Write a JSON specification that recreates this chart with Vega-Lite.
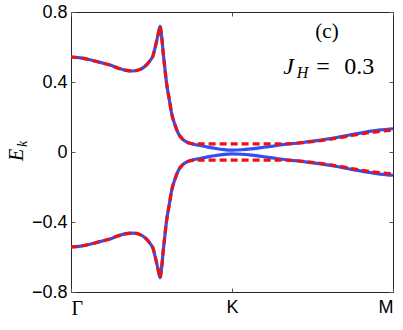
{
  "$schema": "https://vega.github.io/schema/vega-lite/v6.json",
  "width": 322,
  "height": 280,
  "autosize": {"type": "none"},
  "padding": {"left": 71, "top": 12, "right": 10, "bottom": 38},
  "background": "white",
  "config": {
    "view": {"stroke": "#262626", "strokeWidth": 1},
    "axis": {"grid": false, "domain": false, "labelFont": "Liberation Sans", "labelFontSize": 18, "labelColor": "#000", "tickColor": "#555", "tickWidth": 1, "title": null}
  },
  "datasets": {
    "bands": [
      {"curve":"blue","band":"up","k":0,"E":0.543},{"curve":"blue","band":"up","k":0.06,"E":0.538},{"curve":"blue","band":"up","k":0.118,"E":0.527},{"curve":"blue","band":"up","k":0.18,"E":0.512},{"curve":"blue","band":"up","k":0.242,"E":0.497},{"curve":"blue","band":"up","k":0.29,"E":0.48},{"curve":"blue","band":"up","k":0.335,"E":0.468},{"curve":"blue","band":"up","k":0.385,"E":0.463},{"curve":"blue","band":"up","k":0.429,"E":0.472},{"curve":"blue","band":"up","k":0.46,"E":0.49},{"curve":"blue","band":"up","k":0.491,"E":0.522},{"curve":"blue","band":"up","k":0.51,"E":0.552},{"curve":"blue","band":"up","k":0.522,"E":0.595},{"curve":"blue","band":"up","k":0.532,"E":0.635},{"curve":"blue","band":"up","k":0.542,"E":0.675},{"curve":"blue","band":"up","k":0.553,"E":0.718},{"curve":"blue","band":"up","k":0.563,"E":0.66},{"curve":"blue","band":"up","k":0.573,"E":0.564},{"curve":"blue","band":"up","k":0.584,"E":0.469},{"curve":"blue","band":"up","k":0.594,"E":0.39},{"curve":"blue","band":"up","k":0.611,"E":0.297},{"curve":"blue","band":"up","k":0.625,"E":0.221},{"curve":"blue","band":"up","k":0.646,"E":0.154},{"curve":"blue","band":"up","k":0.666,"E":0.107},{"curve":"blue","band":"up","k":0.698,"E":0.069},{"curve":"blue","band":"up","k":0.739,"E":0.05},{"curve":"blue","band":"up","k":0.801,"E":0.037},{"curve":"blue","band":"up","k":0.85,"E":0.028},{"curve":"blue","band":"up","k":0.9,"E":0.02},{"curve":"blue","band":"up","k":0.95,"E":0.014},{"curve":"blue","band":"up","k":1.0,"E":0.011},{"curve":"blue","band":"up","k":1.06,"E":0.013},{"curve":"blue","band":"up","k":1.12,"E":0.018},{"curve":"blue","band":"up","k":1.18,"E":0.025},{"curve":"blue","band":"up","k":1.24,"E":0.032},{"curve":"blue","band":"up","k":1.3,"E":0.04},{"curve":"blue","band":"up","k":1.4,"E":0.05},{"curve":"blue","band":"up","k":1.48,"E":0.059},{"curve":"blue","band":"up","k":1.55,"E":0.068},{"curve":"blue","band":"up","k":1.65,"E":0.083},{"curve":"blue","band":"up","k":1.73,"E":0.097},{"curve":"blue","band":"up","k":1.82,"E":0.112},{"curve":"blue","band":"up","k":1.92,"E":0.126},{"curve":"blue","band":"up","k":2.0,"E":0.133},

      {"curve":"blue","band":"lo","k":0,"E":-0.543},{"curve":"blue","band":"lo","k":0.06,"E":-0.538},{"curve":"blue","band":"lo","k":0.118,"E":-0.527},{"curve":"blue","band":"lo","k":0.18,"E":-0.512},{"curve":"blue","band":"lo","k":0.242,"E":-0.497},{"curve":"blue","band":"lo","k":0.29,"E":-0.48},{"curve":"blue","band":"lo","k":0.335,"E":-0.468},{"curve":"blue","band":"lo","k":0.385,"E":-0.463},{"curve":"blue","band":"lo","k":0.429,"E":-0.472},{"curve":"blue","band":"lo","k":0.46,"E":-0.49},{"curve":"blue","band":"lo","k":0.491,"E":-0.522},{"curve":"blue","band":"lo","k":0.51,"E":-0.552},{"curve":"blue","band":"lo","k":0.522,"E":-0.595},{"curve":"blue","band":"lo","k":0.532,"E":-0.635},{"curve":"blue","band":"lo","k":0.542,"E":-0.675},{"curve":"blue","band":"lo","k":0.553,"E":-0.718},{"curve":"blue","band":"lo","k":0.563,"E":-0.66},{"curve":"blue","band":"lo","k":0.573,"E":-0.564},{"curve":"blue","band":"lo","k":0.584,"E":-0.469},{"curve":"blue","band":"lo","k":0.594,"E":-0.39},{"curve":"blue","band":"lo","k":0.611,"E":-0.297},{"curve":"blue","band":"lo","k":0.625,"E":-0.221},{"curve":"blue","band":"lo","k":0.646,"E":-0.154},{"curve":"blue","band":"lo","k":0.666,"E":-0.107},{"curve":"blue","band":"lo","k":0.698,"E":-0.069},{"curve":"blue","band":"lo","k":0.739,"E":-0.05},{"curve":"blue","band":"lo","k":0.801,"E":-0.037},{"curve":"blue","band":"lo","k":0.85,"E":-0.028},{"curve":"blue","band":"lo","k":0.9,"E":-0.02},{"curve":"blue","band":"lo","k":0.95,"E":-0.014},{"curve":"blue","band":"lo","k":1.0,"E":-0.011},{"curve":"blue","band":"lo","k":1.06,"E":-0.013},{"curve":"blue","band":"lo","k":1.12,"E":-0.018},{"curve":"blue","band":"lo","k":1.18,"E":-0.025},{"curve":"blue","band":"lo","k":1.24,"E":-0.032},{"curve":"blue","band":"lo","k":1.3,"E":-0.04},{"curve":"blue","band":"lo","k":1.4,"E":-0.05},{"curve":"blue","band":"lo","k":1.48,"E":-0.059},{"curve":"blue","band":"lo","k":1.55,"E":-0.068},{"curve":"blue","band":"lo","k":1.65,"E":-0.083},{"curve":"blue","band":"lo","k":1.73,"E":-0.097},{"curve":"blue","band":"lo","k":1.82,"E":-0.112},{"curve":"blue","band":"lo","k":1.92,"E":-0.126},{"curve":"blue","band":"lo","k":2.0,"E":-0.133},

      {"curve":"red","band":"up","k":0,"E":0.543},{"curve":"red","band":"up","k":0.06,"E":0.538},{"curve":"red","band":"up","k":0.118,"E":0.527},{"curve":"red","band":"up","k":0.18,"E":0.512},{"curve":"red","band":"up","k":0.242,"E":0.497},{"curve":"red","band":"up","k":0.29,"E":0.48},{"curve":"red","band":"up","k":0.335,"E":0.468},{"curve":"red","band":"up","k":0.385,"E":0.463},{"curve":"red","band":"up","k":0.429,"E":0.472},{"curve":"red","band":"up","k":0.46,"E":0.49},{"curve":"red","band":"up","k":0.491,"E":0.522},{"curve":"red","band":"up","k":0.51,"E":0.552},{"curve":"red","band":"up","k":0.522,"E":0.595},{"curve":"red","band":"up","k":0.532,"E":0.635},{"curve":"red","band":"up","k":0.542,"E":0.675},{"curve":"red","band":"up","k":0.553,"E":0.718},{"curve":"red","band":"up","k":0.563,"E":0.66},{"curve":"red","band":"up","k":0.573,"E":0.564},{"curve":"red","band":"up","k":0.584,"E":0.469},{"curve":"red","band":"up","k":0.594,"E":0.39},{"curve":"red","band":"up","k":0.611,"E":0.297},{"curve":"red","band":"up","k":0.625,"E":0.221},{"curve":"red","band":"up","k":0.646,"E":0.154},{"curve":"red","band":"up","k":0.666,"E":0.107},{"curve":"red","band":"up","k":0.698,"E":0.069},{"curve":"red","band":"up","k":0.739,"E":0.05},{"curve":"red","band":"up","k":0.78,"E":0.047},{"curve":"red","band":"up","k":0.85,"E":0.046},{"curve":"red","band":"up","k":0.95,"E":0.046},{"curve":"red","band":"up","k":1.05,"E":0.046},{"curve":"red","band":"up","k":1.15,"E":0.046},{"curve":"red","band":"up","k":1.25,"E":0.046},{"curve":"red","band":"up","k":1.33,"E":0.047},{"curve":"red","band":"up","k":1.4,"E":0.05},{"curve":"red","band":"up","k":1.48,"E":0.057},{"curve":"red","band":"up","k":1.55,"E":0.065},{"curve":"red","band":"up","k":1.65,"E":0.079},{"curve":"red","band":"up","k":1.73,"E":0.092},{"curve":"red","band":"up","k":1.82,"E":0.106},{"curve":"red","band":"up","k":1.92,"E":0.118},{"curve":"red","band":"up","k":2.0,"E":0.124},

      {"curve":"red","band":"lo","k":0,"E":-0.543},{"curve":"red","band":"lo","k":0.06,"E":-0.538},{"curve":"red","band":"lo","k":0.118,"E":-0.527},{"curve":"red","band":"lo","k":0.18,"E":-0.512},{"curve":"red","band":"lo","k":0.242,"E":-0.497},{"curve":"red","band":"lo","k":0.29,"E":-0.48},{"curve":"red","band":"lo","k":0.335,"E":-0.468},{"curve":"red","band":"lo","k":0.385,"E":-0.463},{"curve":"red","band":"lo","k":0.429,"E":-0.472},{"curve":"red","band":"lo","k":0.46,"E":-0.49},{"curve":"red","band":"lo","k":0.491,"E":-0.522},{"curve":"red","band":"lo","k":0.51,"E":-0.552},{"curve":"red","band":"lo","k":0.522,"E":-0.595},{"curve":"red","band":"lo","k":0.532,"E":-0.635},{"curve":"red","band":"lo","k":0.542,"E":-0.675},{"curve":"red","band":"lo","k":0.553,"E":-0.718},{"curve":"red","band":"lo","k":0.563,"E":-0.66},{"curve":"red","band":"lo","k":0.573,"E":-0.564},{"curve":"red","band":"lo","k":0.584,"E":-0.469},{"curve":"red","band":"lo","k":0.594,"E":-0.39},{"curve":"red","band":"lo","k":0.611,"E":-0.297},{"curve":"red","band":"lo","k":0.625,"E":-0.221},{"curve":"red","band":"lo","k":0.646,"E":-0.154},{"curve":"red","band":"lo","k":0.666,"E":-0.107},{"curve":"red","band":"lo","k":0.698,"E":-0.069},{"curve":"red","band":"lo","k":0.739,"E":-0.05},{"curve":"red","band":"lo","k":0.78,"E":-0.047},{"curve":"red","band":"lo","k":0.85,"E":-0.046},{"curve":"red","band":"lo","k":0.95,"E":-0.046},{"curve":"red","band":"lo","k":1.05,"E":-0.046},{"curve":"red","band":"lo","k":1.15,"E":-0.046},{"curve":"red","band":"lo","k":1.25,"E":-0.046},{"curve":"red","band":"lo","k":1.33,"E":-0.047},{"curve":"red","band":"lo","k":1.4,"E":-0.05},{"curve":"red","band":"lo","k":1.48,"E":-0.057},{"curve":"red","band":"lo","k":1.55,"E":-0.065},{"curve":"red","band":"lo","k":1.65,"E":-0.079},{"curve":"red","band":"lo","k":1.73,"E":-0.092},{"curve":"red","band":"lo","k":1.82,"E":-0.106},{"curve":"red","band":"lo","k":1.92,"E":-0.118},{"curve":"red","band":"lo","k":2.0,"E":-0.124}
    ]
  },
  "resolve": {"axis": {"x": "independent", "y": "independent"}},
  "layer": [
    {
      "data": {"name": "bands"},
      "transform": [{"filter": "datum.curve === 'blue'"}],
      "mark": {"type": "line", "color": "#3050f2", "strokeWidth": 3.2, "interpolate": "monotone", "clip": true},
      "encoding": {
        "x": {"field": "k", "type": "quantitative", "scale": {"domain": [0, 2], "nice": false, "zero": false},
              "axis": {"orient": "bottom", "values": [0, 1, 2], "tickSize": -4, "labelPadding": 10,
                       "labelExpr": "datum.value == 0 ? 'Γ' : (datum.value == 1 ? 'K' : 'M')",
                       "labelFont": {"condition": {"test": "datum.value == 0", "value": "Liberation Serif"}, "value": "Liberation Sans"},
                       "labelFontSize": {"condition": {"test": "datum.value == 0", "value": 20}, "value": 18}}},
        "y": {"field": "E", "type": "quantitative", "scale": {"domain": [-0.8, 0.8], "nice": false, "zero": false},
              "axis": {"orient": "left", "values": [-0.8, -0.4, 0, 0.4, 0.8], "tickSize": -4, "labelPadding": 8,
                       "labelExpr": "datum.value == 0 ? '0' : replace(format(datum.value, '.1f'), '-', '−')"}},
        "detail": {"field": "band"}
      }
    },
    {
      "data": {"name": "bands"},
      "transform": [{"filter": "datum.curve === 'red'"}],
      "mark": {"type": "line", "color": "#ee1111", "strokeWidth": 3.2, "strokeDash": [7, 4], "interpolate": "monotone", "clip": true},
      "encoding": {
        "x": {"field": "k", "type": "quantitative", "axis": {"orient": "top", "values": [0, 1, 2], "tickSize": -4, "labels": false}},
        "y": {"field": "E", "type": "quantitative", "axis": {"orient": "right", "values": [-0.8, -0.4, 0, 0.4, 0.8], "tickSize": -4, "labels": false}},
        "detail": {"field": "band"}
      }
    },
    {
      "data": {"values": [{"k": 1.59, "E": 0.686, "t": "(c)"}]},
      "mark": {"type": "text", "font": "Liberation Serif", "fontSize": 21, "align": "center", "baseline": "middle", "color": "#000"},
      "encoding": {"x": {"field": "k", "type": "quantitative", "axis": null}, "y": {"field": "E", "type": "quantitative", "axis": null}, "text": {"field": "t"}}
    },
    {
      "data": {"values": [{"k": 1.351, "E": 0.446, "t": "J"}]},
      "mark": {"type": "text", "font": "Liberation Serif", "fontStyle": "italic", "fontSize": 24, "align": "center", "baseline": "alphabetic", "color": "#000"},
      "encoding": {"x": {"field": "k", "type": "quantitative", "axis": null}, "y": {"field": "E", "type": "quantitative", "axis": null}, "text": {"field": "t"}}
    },
    {
      "data": {"values": [{"k": 1.438, "E": 0.423, "t": "H"}]},
      "mark": {"type": "text", "font": "Liberation Serif", "fontStyle": "italic", "fontSize": 16, "align": "center", "baseline": "alphabetic", "color": "#000"},
      "encoding": {"x": {"field": "k", "type": "quantitative", "axis": null}, "y": {"field": "E", "type": "quantitative", "axis": null}, "text": {"field": "t"}}
    },
    {
      "data": {"values": [{"k": 1.565, "E": 0.446, "t": "="}, {"k": 1.79, "E": 0.446, "t": "0.3"}]},
      "mark": {"type": "text", "font": "Liberation Serif", "fontSize": 24, "align": "center", "baseline": "alphabetic", "color": "#000"},
      "encoding": {"x": {"field": "k", "type": "quantitative", "axis": null}, "y": {"field": "E", "type": "quantitative", "axis": null}, "text": {"field": "t"}}
    },
    {
      "data": {"values": [{"k": -0.335, "E": -0.017, "t": "E"}]},
      "mark": {"type": "text", "font": "Liberation Serif", "fontStyle": "italic", "fontSize": 20, "angle": 270, "align": "center", "baseline": "middle", "color": "#000", "clip": false},
      "encoding": {"x": {"field": "k", "type": "quantitative", "axis": null}, "y": {"field": "E", "type": "quantitative", "axis": null}, "text": {"field": "t"}}
    },
    {
      "data": {"values": [{"k": -0.298, "E": 0.046, "t": "k"}]},
      "mark": {"type": "text", "font": "Liberation Serif", "fontStyle": "italic", "fontSize": 14, "angle": 270, "align": "center", "baseline": "middle", "color": "#000", "clip": false},
      "encoding": {"x": {"field": "k", "type": "quantitative", "axis": null}, "y": {"field": "E", "type": "quantitative", "axis": null}, "text": {"field": "t"}}
    }
  ]
}
